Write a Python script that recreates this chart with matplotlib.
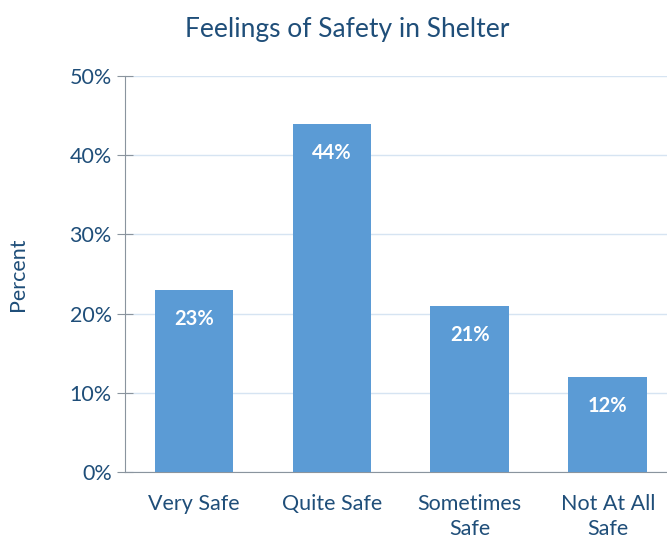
import matplotlib.pyplot as plt
from matplotlib.ticker import PercentFormatter

# данные
categories = ['Very Safe', 'Quite Safe', 'Sometimes\nSafe', 'Not At All\nSafe']
values = [23, 44, 21, 12]

text_color = '#1F4E79'
bar_color = '#5B9BD5'
axis_color = '#8A949E'

plt.rcParams['font.family'] = ['Lato', 'DejaVu Sans']

fig = plt.figure(figsize=(6.67, 5.4), dpi=100)
ax = fig.add_axes([0.1874, 0.1259, 0.8126, 0.7334])

x = range(len(categories))
bars = ax.bar(x, values, width=0.57, color=bar_color, zorder=3)

# подписи внутри столбцов
for rect, v in zip(bars, values):
    ax.annotate(f'{v}%', (rect.get_x() + rect.get_width() / 2, rect.get_height()),
                xytext=(0, -21), textcoords='offset points', ha='center', va='center',
                color='white', fontsize=14.5, fontweight='bold', zorder=4)

ax.set_xlim(-0.5, 3.43)
ax.set_ylim(0, 50)
ax.set_yticks(range(0, 51, 10))
ax.yaxis.set_major_formatter(PercentFormatter(decimals=0))
ax.set_xticks(list(x))
ax.set_xticklabels(categories, color=text_color, fontsize=15.5, linespacing=1.3)
ax.tick_params(axis='x', length=0, pad=16)
ax.tick_params(axis='y', direction='inout', length=11, color=axis_color,
               labelcolor=text_color, labelsize=15.5, pad=4)

ax.grid(axis='y', color='#D6E4F2', linewidth=1, zorder=0)
for side in ['top', 'right']:
    ax.spines[side].set_visible(False)
for side in ['left', 'bottom']:
    ax.spines[side].set_color(axis_color)

ax.set_ylabel('Percent', color=text_color, fontsize=15.5, labelpad=30)
fig.text(0.52, 0.945, 'Feelings of Safety in Shelter', ha='center', va='center',
         color=text_color, fontsize=19)

fig.savefig('out.png', dpi=100)
